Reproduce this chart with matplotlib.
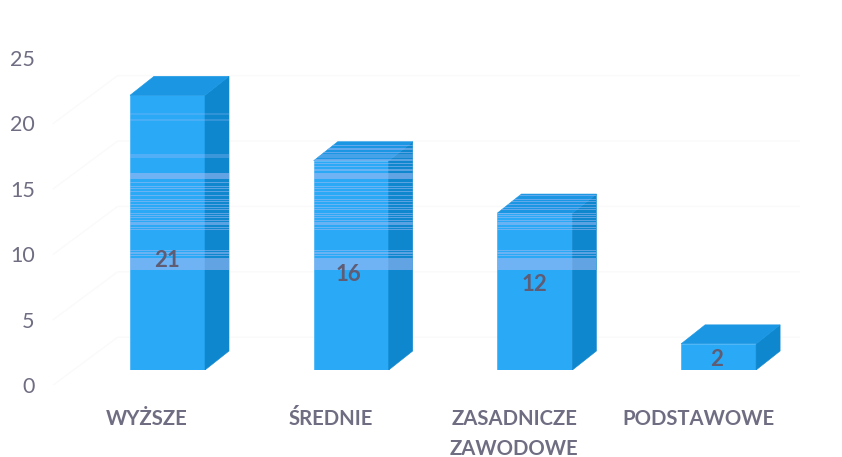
import matplotlib
matplotlib.use("Agg")
import matplotlib.pyplot as plt
from matplotlib.patches import Polygon, Rectangle

plt.rcParams['font.family'] = ['Lato', 'DejaVu Sans']

categories = ["WYŻSZE", "ŚREDNIE", "ZASADNICZE\nZAWODOWE", "PODSTAWOWE"]
values = [21, 16, 12, 2]
label_heights = [8.4, 7.3, 6.55, 0.77]
label_shifts = [0.0, -0.016, 0.0, -0.01]
y_ticks = [0, 5, 10, 15, 20, 25]
wide_bands = [(7.63, 8.55, 0.55), (14.6, 15.05, 0.55), (16.2, 16.5, 0.30),
              (19.0, 19.2, 0.25), (19.5, 19.65, 0.22)]
thin_bands = [8.7, 8.85, 8.95, 9.1, 10.7, 10.85, 11.05, 11.2, 11.4, 11.6, 11.75, 11.9,
              12.2, 12.4, 12.6, 12.85, 13.0, 13.3, 13.6, 13.8, 14.0, 14.3]
second_bar_bands = [15.25, 15.5, 15.75, 16.0, 16.6, 16.85, 17.1]

W, H = 842, 457
FRONT, SIDE, TOP = "#2aa9f7", "#0e87cf", "#1a96e3"
BAND = "#a9bdf5"
TEXT = "#6f6d82"
GRID = "#fafafa"

fig = plt.figure(figsize=(W / 100, H / 100), dpi=100, facecolor="white")

def axes_px(left, right, top, bottom):
    return fig.add_axes([left / W, 1 - bottom / H, (right - left) / W, (bottom - top) / H])

ay = axes_px(0, W, 58, 385)
ay.set_ylim(0, 25)
ay.set_xlim(-147 / 183.7, (W - 147) / 183.7)
ay.set_yticks(y_ticks)
ay.set_xticks(range(len(categories)))
ay.set_xticklabels(categories, fontsize=14.6, fontweight="bold", color=TEXT, linespacing=1.62)
ay.tick_params(axis="x", length=0, pad=17)
ay.tick_params(axis="y", length=0, labelsize=15.5, labelcolor=TEXT, pad=-25)
for s in ay.spines.values():
    s.set_visible(False)
ay.patch.set_visible(False)

wall_x0, wall_x1, wall_x2 = -0.51, -0.16, 3.55
wall_rise = 3.65
for v in y_ticks[:-1]:
    ay.plot([wall_x0, wall_x1, wall_x2], [v, v + wall_rise, v + wall_rise],
            color=GRID, lw=1, zorder=0)

ax = axes_px(0, W, 43, 370)
ax.set_ylim(0, 25)
ax.set_xlim(-167.5 / 183.7, (W - 167.5) / 183.7)
ax.axis("off")
ax.patch.set_visible(False)

width = 75 / 183.7
depth_x = 24 / 183.7
depth_y = 19 / 13.08

bars = ax.bar(range(len(values)), values, width=width, color=FRONT, edgecolor=FRONT,
              linewidth=0.4, zorder=2)
for i, (rect, v) in enumerate(zip(bars, values)):
    x0, x1 = rect.get_x(), rect.get_x() + rect.get_width()
    ax.add_patch(Polygon([(x1, 0), (x1 + depth_x, depth_y), (x1 + depth_x, v + depth_y), (x1, v)],
                         closed=True, fc=SIDE, ec=SIDE, lw=0.4, zorder=2))
    ax.add_patch(Polygon([(x0, v), (x0 + depth_x, v + depth_y), (x1 + depth_x, v + depth_y), (x1, v)],
                         closed=True, fc=TOP, ec=TOP, lw=0.4, zorder=2))
    sil = Polygon([(x0, 0), (x1, 0), (x1 + depth_x, depth_y), (x1 + depth_x, v + depth_y),
                   (x0 + depth_x, v + depth_y), (x0, v)],
                  closed=True, fc="none", ec="none", transform=ax.transData)
    ax.add_patch(sil)
    for lo, hi, a in wide_bands:
        r = Rectangle((x0, lo), x1 + depth_x - x0, hi - lo, fc=BAND, ec="none", alpha=a, zorder=3)
        ax.add_patch(r)
        r.set_clip_path(sil)
    stripes = thin_bands + (second_bar_bands if i == 1 else [])
    for t in stripes:
        r = Rectangle((x0, t), x1 + depth_x - x0, 0.1, fc=BAND, ec="none", alpha=0.5, zorder=3)
        ax.add_patch(r)
        r.set_clip_path(sil)
    ax.text(i + label_shifts[i], label_heights[i], str(v), ha="center", va="center", fontsize=16,
            fontweight="bold", color="#5f5c74", zorder=4)

fig.savefig("out.png", dpi=100, facecolor="white")
